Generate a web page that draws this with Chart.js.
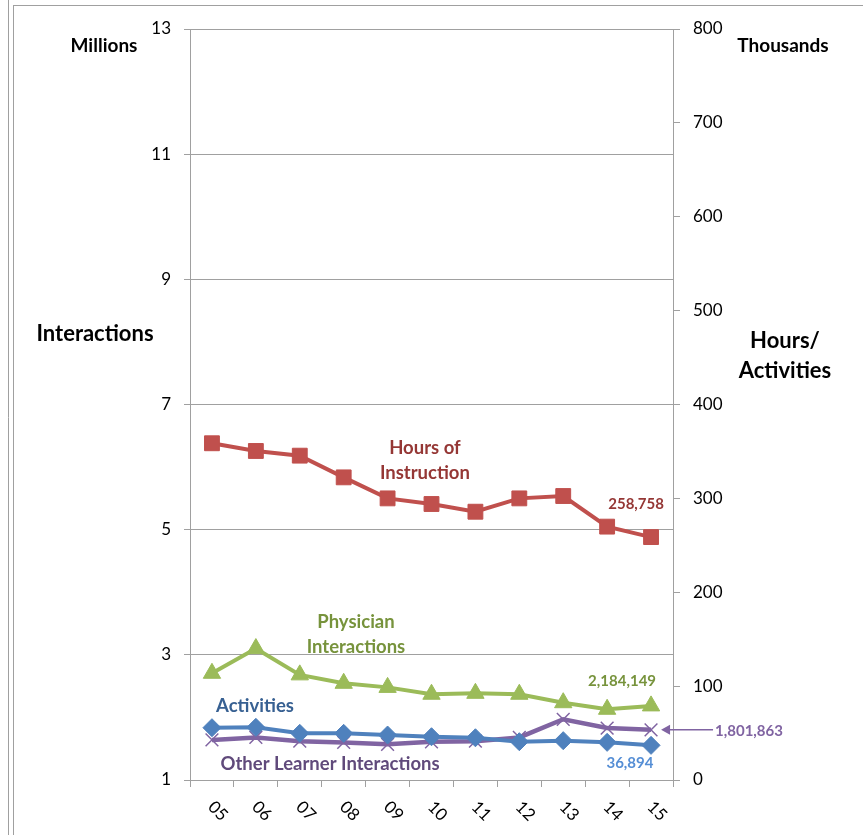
<!DOCTYPE html>
<html>
<head>
<meta charset="utf-8">
<script src="https://cdn.jsdelivr.net/npm/chart.js@4"></script>
<style>
  html, body { margin: 0; padding: 0; background: #fff; }
  canvas { display: block; }
</style>
</head>
<body>
<canvas id="chart" width="863" height="835"></canvas>
<script>
// years (x axis)
const years = ['05', '06', '07', '08', '09', '10', '11', '12', '13', '14', '15'];

// right axis, thousands
const hoursOfInstruction = [358.7, 350.5, 345.5, 322.4, 300.0, 294.0, 285.8, 300.0, 302.5, 269.9, 258.758];
const activities = [55.7, 56.1, 49.7, 49.7, 47.9, 46.1, 45.0, 40.8, 41.9, 40.1, 36.894];

// left axis, millions
const physicianInteractions = [2.705, 3.10, 2.68, 2.545, 2.48, 2.37, 2.385, 2.37, 2.235, 2.13, 2.184149];
const otherLearnerInteractions = [1.64, 1.68, 1.62, 1.60, 1.57, 1.61, 1.62, 1.68, 1.97, 1.83, 1.801863];

const leftTicks = [1, 13, 2];     // min, max, step
const rightTicks = [0, 800, 100];

const FONT = 'Lato, "Open Sans", sans-serif';
const GRID = '#a0a0a0';

// text labels placed next to the lines (x = category index, y = axis value)
const notes = [
  { text: ['Hours of', 'Instruction'], x: 4.85, y: 354, axis: 'yR', color: '#953735', size: 18.5 },
  { text: ['258,758'], x: 9.66, y: 294, axis: 'yR', color: '#953735', size: 15 },
  { text: ['Physician', 'Interactions'], x: 3.28, y: 3.52, axis: 'yL', color: '#77933c', size: 18.5 },
  { text: ['2,184,149'], x: 9.34, y: 2.58, axis: 'yL', color: '#77933c', size: 15 },
  { text: ['Activities'], x: 0.98, y: 2.18, axis: 'yL', color: '#376092', size: 18.5 },
  { text: ['Other Learner Interactions'], x: 2.69, y: 1.255, axis: 'yL', color: '#604a7b', size: 18.5 },
  { text: ['36,894'], x: 9.52, y: 1.27, axis: 'yL', color: '#558ed5', size: 15 }
];

const frameAndText = {
  id: 'frameAndText',
  beforeDraw(chart) {
    const ctx = chart.ctx;
    ctx.save();
    ctx.fillStyle = '#fff';
    ctx.fillRect(0, 0, chart.width, chart.height);
    ctx.strokeStyle = GRID;
    ctx.lineWidth = 1;
    ctx.beginPath();
    ctx.moveTo(8.5, 0); ctx.lineTo(8.5, chart.height);
    ctx.moveTo(13.5, 5); ctx.lineTo(13.5, chart.height);
    ctx.moveTo(13, 5.5); ctx.lineTo(chart.width, 5.5);
    ctx.stroke();
    ctx.restore();
  },
  afterDraw(chart) {
    const ctx = chart.ctx;
    const xs = chart.scales.x;
    const step = xs.getPixelForValue(1) - xs.getPixelForValue(0);
    const px = (i) => xs.getPixelForValue(0) + i * step;
    ctx.save();

    // rotated year labels
    ctx.fillStyle = '#000';
    ctx.font = '17px ' + FONT;
    ctx.textAlign = 'center';
    ctx.textBaseline = 'middle';
    years.forEach((y, i) => {
      ctx.save();
      ctx.translate(xs.getPixelForValue(i) + 6, xs.top + 31);
      ctx.rotate(Math.PI / 4);
      ctx.fillText(y, 0, 0);
      ctx.restore();
    });

    // axis titles
    ctx.fillStyle = '#000';
    ctx.font = 'bold 19px ' + FONT;
    ctx.fillText('Millions', 104, 46);
    ctx.fillText('Thousands', 783, 46);
    ctx.font = 'bold 22px ' + FONT;
    ctx.fillText('Interactions', 95, 334);
    ctx.fillText('Hours/', 785, 341);
    ctx.fillText('Activities', 785, 371);

    // series labels
    notes.forEach(n => {
      const sc = chart.scales[n.axis];
      ctx.fillStyle = n.color;
      ctx.font = 'bold ' + n.size + 'px ' + FONT;
      const x = px(n.x);
      const y = sc.getPixelForValue(n.y);
      n.text.forEach((t, k) => ctx.fillText(t, x, y + k * 25));
    });

    // arrow to last purple point
    const idx = chart.data.datasets.findIndex(d => d.label === 'Other Learner Interactions');
    const meta = chart.getDatasetMeta(idx);
    const last = meta.data[meta.data.length - 1];
    const ay = last.y;
    const ax = last.x + 10;
    ctx.strokeStyle = '#8064a2';
    ctx.fillStyle = '#8064a2';
    ctx.lineWidth = 1.5;
    ctx.beginPath();
    ctx.moveTo(ax + 52, ay);
    ctx.lineTo(ax + 4, ay);
    ctx.stroke();
    ctx.beginPath();
    ctx.moveTo(ax, ay);
    ctx.lineTo(ax + 9, ay - 5);
    ctx.lineTo(ax + 9, ay + 5);
    ctx.closePath();
    ctx.fill();
    ctx.font = 'bold 15px ' + FONT;
    ctx.textAlign = 'left';
    ctx.fillText('1,801,863', ax + 54, ay + 1);

    ctx.restore();
  }
};

new Chart(document.getElementById('chart'), {
  type: 'line',
  data: {
    labels: years,
    datasets: [
      {
        label: 'Other Learner Interactions',
        data: otherLearnerInteractions,
        yAxisID: 'yL',
        borderColor: '#8064a2',
        backgroundColor: '#8064a2',
        borderWidth: 4.5,
        pointStyle: 'crossRot',
        pointRadius: 9,
        pointBorderWidth: 1.5,
        order: 4
      },
      {
        label: 'Activities',
        data: activities,
        yAxisID: 'yR',
        borderColor: '#4f81bd',
        backgroundColor: '#4f81bd',
        borderWidth: 4,
        pointStyle: 'rectRot',
        pointRadius: 9,
        pointBorderWidth: 1,
        order: 3
      },
      {
        label: 'Physician Interactions',
        data: physicianInteractions,
        yAxisID: 'yL',
        borderColor: '#9bbb59',
        backgroundColor: '#9bbb59',
        borderWidth: 4,
        pointStyle: 'triangle',
        pointRadius: 10,
        pointBorderWidth: 1,
        order: 2
      },
      {
        label: 'Hours of Instruction',
        data: hoursOfInstruction,
        yAxisID: 'yR',
        borderColor: '#c0504d',
        backgroundColor: '#c0504d',
        borderWidth: 4,
        pointStyle: 'rect',
        pointRadius: 10.5,
        pointBorderWidth: 1,
        order: 1
      }
    ]
  },
  options: {
    responsive: false,
    animation: false,
    layout: { padding: { top: 29, left: 0, right: 0, bottom: 0 } },
    plugins: { legend: { display: false }, tooltip: { enabled: false } },
    elements: { line: { tension: 0 } },
    scales: {
      x: {
        offset: true,
        grid: { offset: true, drawOnChartArea: false, drawTicks: true, tickLength: 7, color: GRID },
        border: { color: GRID },
        ticks: { display: false },
        afterFit: (s) => { s.height = 55; }
      },
      yL: {
        position: 'left',
        min: leftTicks[0],
        max: leftTicks[1],
        ticks: { stepSize: leftTicks[2], color: '#000', font: { family: FONT, size: 17 }, padding: 13 },
        grid: { color: GRID, tickLength: 6 },
        border: { color: GRID },
        afterFit: (s) => { s.width = 190; }
      },
      yR: {
        position: 'right',
        min: rightTicks[0],
        max: rightTicks[1],
        ticks: { stepSize: rightTicks[2], color: '#000', font: { family: FONT, size: 17 }, padding: 13 },
        grid: { drawOnChartArea: false, color: GRID, tickLength: 7 },
        border: { color: GRID },
        afterFit: (s) => { s.width = 190; }
      }
    }
  },
  plugins: [frameAndText]
});
</script>
</body>
</html>
